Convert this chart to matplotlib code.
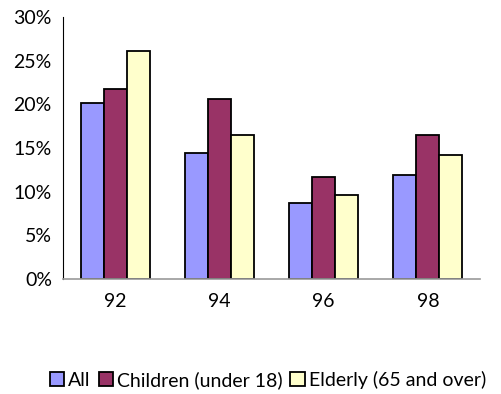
import numpy as np
import matplotlib.pyplot as plt
from matplotlib.ticker import PercentFormatter

plt.rcParams['font.family'] = ['Lato', 'DejaVu Sans']

years = ["92", "94", "96", "98"]
all_pct = [20.2, 14.4, 8.7, 11.9]
children_pct = [21.8, 20.6, 11.7, 16.5]
elderly_pct = [26.1, 16.5, 9.6, 14.2]

series = [("All", all_pct, "#9999FF"),
          ("Children (under 18)", children_pct, "#993366"),
          ("Elderly (65 and over)", elderly_pct, "#FFFFCC")]

fig = plt.figure(figsize=(5.02, 3.94), dpi=100)
ax = fig.add_axes([63 / 502, 1 - 279 / 394, 417 / 502, 262 / 394])

x = np.arange(len(years))
w = 0.22
for i, (name, vals, col) in enumerate(series):
    ax.bar(x + (i - 1) * w, vals, w, color=col, edgecolor="black",
           linewidth=1.3, label=name)

ax.set_xlim(-0.5, len(years) - 0.5)
ax.set_ylim(0, 30)
ax.set_yticks(range(0, 31, 5))
ax.yaxis.set_major_formatter(PercentFormatter(decimals=0))
ax.set_xticks(x)
ax.set_xticklabels(years)
ax.tick_params(length=0, labelsize=14, pad=8)
ax.tick_params(axis="x", pad=10)

for s in ["top", "right"]:
    ax.spines[s].set_visible(False)
ax.spines["left"].set_color("black")
ax.spines["bottom"].set_color("#999999")
ax.spines["bottom"].set_linewidth(1.2)

fig.legend(loc="center", bbox_to_anchor=(268 / 502, 1 - 380 / 394), ncol=3,
           frameon=False, fontsize=14, handlelength=0.75, handleheight=0.75,
           handletextpad=0.2, columnspacing=0.4)

fig.savefig("out.png", dpi=100)
